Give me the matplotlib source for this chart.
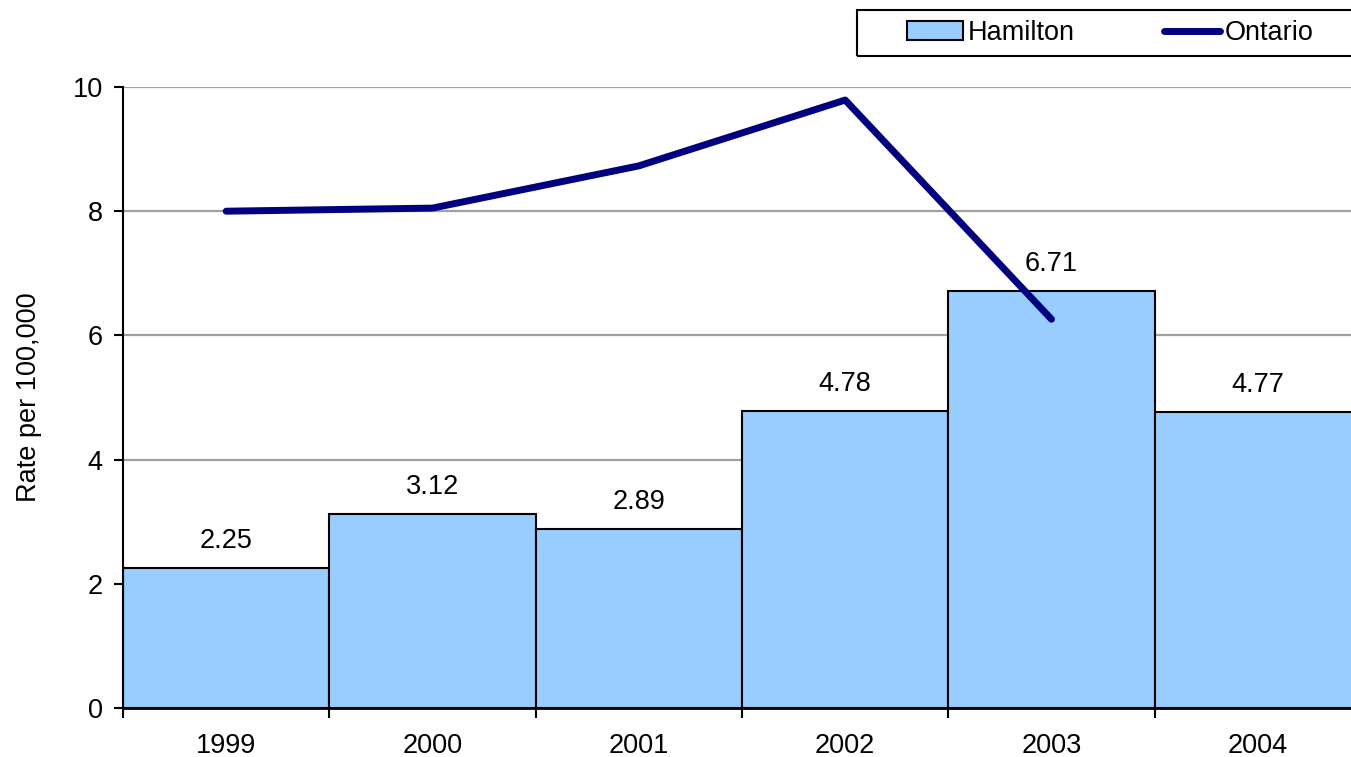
import numpy as np
import matplotlib.pyplot as plt
from matplotlib.patches import Rectangle
from matplotlib.ticker import FixedLocator

# Data
years = ["1999", "2000", "2001", "2002", "2003", "2004"]
hamilton = [2.25, 3.12, 2.89, 4.78, 6.71, 4.77]
ontario_years = ["1999", "2000", "2001", "2002", "2003"]
ontario = [8.0, 8.05, 8.73, 9.79, 6.26]

plt.rcParams['font.family'] = ['Liberation Sans', 'DejaVu Sans']
plt.rcParams['font.size'] = 19.5

fig = plt.figure(figsize=(13.51, 7.57), dpi=100)
# plot area runs slightly past the right edge, as in the reference
ax = fig.add_axes([123 / 1351, 1 - 708 / 757, (1361 - 123) / 1351, (708 - 87) / 757])

x = np.arange(len(years))
bars = ax.bar(x, hamilton, width=1.0, color="#99CCFF", edgecolor="black",
              linewidth=1.5, label="Hamilton", zorder=2)
xo = [years.index(y) for y in ontario_years]
ax.plot(xo, ontario, color="#000080", linewidth=5, label="Ontario",
        solid_capstyle="round", zorder=3)

for xi, v in zip(x, hamilton):
    ax.annotate(f"{v:.2f}", (xi, v), xytext=(0, 10), textcoords="offset points",
                ha="center", va="bottom")

ax.set_xlim(-0.5, len(years) - 0.5)
ax.set_ylim(0, 10)
ax.set_yticks([0, 2, 4, 6, 8, 10])
ax.yaxis.grid(True, color="#A0A0A0", linewidth=1.6, zorder=0)
ax.set_axisbelow(True)

ax.set_xticks(x)
ax.set_xticklabels(years)
ax.xaxis.set_minor_locator(FixedLocator(np.arange(-0.5, len(years), 1.0)))
ax.tick_params(axis="x", which="major", length=0, pad=18)
ax.tick_params(axis="x", which="minor", length=7, width=1.5, direction="out")
ax.tick_params(axis="y", length=6.5, width=1.5, direction="out", pad=8)

for s in ["top", "right"]:
    ax.spines[s].set_visible(False)
ax.spines["left"].set_linewidth(1.5)
ax.spines["bottom"].set_linewidth(2)

ax.set_ylabel("Rate per 100,000", labelpad=22)

# legend box, drawn separately so the entries can sit where the reference has them
fig.patches.append(Rectangle((857 / 1351, 1 - 56 / 757), (1370 - 857) / 1351, 46 / 757,
                             transform=fig.transFigure, fill=False,
                             edgecolor="black", linewidth=1.5))
leg = fig.legend(handles=[bars, ax.lines[0]], labels=["Hamilton", "Ontario"],
                 loc="center left", bbox_to_anchor=(907 / 1351, 1 - 33 / 757),
                 ncol=2, frameon=False, borderpad=0, borderaxespad=0,
                 handlelength=2.05, handletextpad=0.2, columnspacing=3.3)

fig.savefig("out.png", dpi=100)
